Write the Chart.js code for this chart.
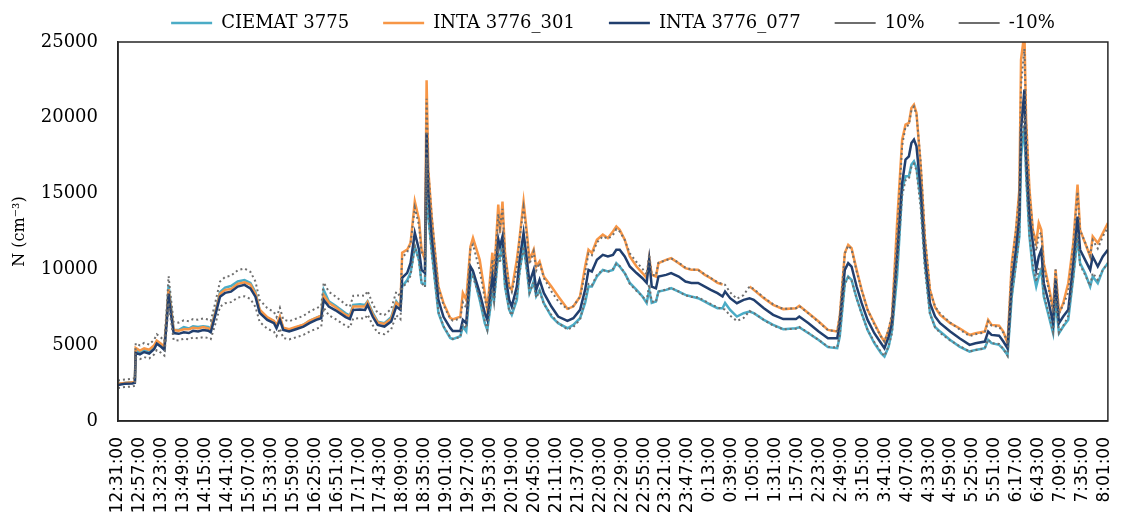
<!DOCTYPE html>
<html>
<head>
<meta charset="utf-8">
<title>N (cm-3)</title>
<script src="https://cdn.jsdelivr.net/npm/chart.js@4.4.1/dist/chart.umd.min.js"></script>
<style>
  html, body { margin: 0; padding: 0; background: #fff; }
  #wrap { width: 1133px; height: 515px; position: relative; }
</style>
</head>
<body>
<div id="wrap"><canvas id="chart"></canvas></div>
<script>
// Sample times, in minutes after 12:31
const minutes = [
  0, 8, 17, 20, 21, 26, 31, 37, 43, 46, 51, 55, 58, 60, 63, 66, 72, 78, 84, 89,
  95, 101, 107, 110, 115, 121, 127, 134, 142, 150, 157, 163, 168, 177, 185, 188, 192, 196, 203, 211,
  220, 227, 235, 241, 244, 250, 258, 270, 275, 279, 287, 293, 296, 302, 308, 316, 324, 330, 335, 337,
  343, 347, 352, 357, 360, 364, 366, 368, 372, 376, 380, 386, 394, 397, 406, 409, 413, 418, 421, 429,
  435, 438, 444, 446, 451, 453, 456, 459, 464, 467, 473, 476, 481, 485, 488, 493, 496, 500, 505, 514,
  522, 533, 540, 548, 554, 558, 562, 568, 575, 581, 587, 591, 595, 601, 607, 615, 622, 627, 630, 633,
  638, 641, 650, 656, 665, 673, 680, 688, 696, 703, 711, 717, 720, 726, 734, 742, 749, 754, 766, 777,
  789, 804, 808, 819, 831, 842, 853, 856, 862, 866, 870, 876, 882, 889, 897, 905, 909, 914, 918, 924,
  930, 934, 938, 941, 944, 947, 952, 957, 963, 969, 975, 987, 998, 1010, 1017, 1028, 1032, 1036, 1045, 1050,
  1055, 1060, 1065, 1069, 1071, 1075, 1077, 1081, 1085, 1089, 1092, 1095, 1098, 1104, 1109, 1112, 1116, 1121, 1127, 1133,
  1138, 1141, 1147, 1153, 1156, 1162, 1168, 1174
];

const ciemat3775 = [
  2450, 2500, 2550, 2600, 4700, 4550, 4700, 4600, 4900, 5200, 5000, 4800, 7100, 8950, 7500, 6000, 6000, 6200, 6100, 6250,
  6200, 6250, 6200, 6100, 7100, 8500, 8800, 8900, 9200, 9300, 9100, 8500, 7300, 6800, 6550, 6250, 6800, 6100, 6000, 6150,
  6350, 6600, 6800, 6950, 8640, 7900, 7600, 7100, 6950, 7650, 7700, 7650, 7900, 7150, 6550, 6450, 6850, 7900, 7500, 8870,
  9300, 9770, 11510, 10630, 9110, 9000, 16500, 13500, 11300, 9200, 7130, 6230, 5480, 5400, 5590, 6230, 5920, 9300, 9770, 7990,
  6450, 6010, 8450, 7990, 11000, 10800, 11520, 8870, 7330, 7000, 7990, 9800, 11520, 9970, 8450, 9220, 8230, 8650, 7770, 6890,
  6450, 6120, 6340, 6780, 7790, 8870, 8870, 9530, 9970, 9860, 9970, 10410, 10190, 9750, 9110, 8650, 8210, 7790, 8650, 7790,
  7880, 8540, 8650, 8760, 8540, 8320, 8210, 8100, 7880, 7660, 7440, 7440, 7790, 7330, 6890, 7110, 7220, 7110, 6670, 6340,
  6060, 6120, 6180, 5790, 5350, 4870, 4800, 5570, 9090, 9530, 9310, 8100, 7110, 6010, 5130, 4470, 4250, 4910, 6010, 9530,
  15260, 16140, 16140, 16910, 17130, 16690, 14600, 10410, 7110, 6200, 5900, 5350, 4910, 4580, 4690, 4800, 5350, 5130, 5020, 4740,
  4360, 8210, 10410, 12170, 17460, 19500, 16360, 12170, 9970, 8870, 9530, 9970, 8210, 6890, 5790, 7990, 5790, 6230, 6670, 9530,
  12170, 10410, 9750, 8870, 9530, 9090, 9970, 10410
];

const inta301 = [
  2450, 2500, 2560, 2600, 4820, 4650, 4800, 4700, 5000, 5300, 5100, 4900, 7000, 8700, 7300, 6000, 5950, 6050, 6050, 6150,
  6100, 6200, 6100, 6050, 7050, 8400, 8650, 8700, 9050, 9150, 9000, 8400, 7350, 6850, 6600, 6300, 6900, 6150, 6050, 6200,
  6350, 6600, 6800, 6950, 8300, 7800, 7500, 7000, 6900, 7550, 7550, 7550, 7850, 7050, 6500, 6400, 6750, 7800, 7550, 11100,
  11300, 11750, 14480, 13280, 11300, 10630, 22480, 16580, 13490, 11100, 8870, 7790, 6800, 6700, 6890, 8450, 7990, 11500, 12080, 10630,
  8450, 7330, 11100, 9530, 14270, 12400, 14480, 11100, 8870, 8650, 10630, 11950, 14480, 12400, 10630, 11300, 10190, 10520, 9530, 8870,
  8230, 7400, 7550, 8210, 10190, 11300, 11080, 11960, 12290, 12070, 12500, 12830, 12610, 11960, 10850, 10190, 9760, 9420, 10740, 9640,
  9530, 10410, 10630, 10740, 10410, 10080, 9970, 9970, 9640, 9420, 9110, 9000, null, null, null, null, 8880, 8650, 8100, 7660,
  7380, 7440, 7600, 7110, 6560, 6010, 5900, 6890, 11080, 11620, 11400, 9970, 8650, 7330, 6450, 5570, 5240, 6010, 6890, 13060,
  18560, 19550, 19660, 20650, 20870, 20320, 16800, 11960, 8650, 7500, 7000, 6450, 6120, 5680, 5790, 5900, 6670, 6340, 6290, 5900,
  5130, 10410, 12610, 15260, 23840, 25600, 19880, 15260, 12610, 11740, 13060, 12610, 10410, 8870, 7330, 9970, 7110, 7770, 9090, 11740,
  15590, 12610, 11740, 10850, 12170, 11740, 12390, 13060
];

const inta077 = [
  2380, 2450, 2480, 2520, 4490, 4400, 4550, 4450, 4750, 5100, 4900, 4690, 6670, 8400, 7000, 5800, 5750, 5850, 5800, 5950,
  5900, 6000, 5950, 5850, 6890, 8200, 8450, 8530, 8870, 8980, 8750, 8200, 7130, 6670, 6450, 6120, 6670, 6010, 5900, 6050,
  6230, 6450, 6670, 6780, 7990, 7550, 7300, 6850, 6720, 7330, 7350, 7330, 7660, 6890, 6340, 6230, 6560, 7550, 7330, 9440,
  9770, 10430, 12410, 11300, 9970, 9770, 19000, 15060, 12150, 10170, 7990, 6870, 6140, 5940, 5940, 6670, 6450, 10190, 9900, 8450,
  7130, 6670, 9530, 8650, 12000, 11500, 12170, 9770, 7990, 7550, 8870, 10500, 12410, 10630, 9110, 9970, 8650, 9310, 8450, 7550,
  6890, 6600, 6780, 7330, 8650, 9970, 9860, 10630, 10960, 10850, 10960, 11300, 11300, 10850, 10190, 9760, 9420, 9110, 10630, 8870,
  8750, 9530, 9640, 9760, 9530, 9200, 9110, 9110, 8870, 8650, 8430, 8210, 8540, 8100, 7770, 7990, 8100, 7990, 7440, 7000,
  6720, 6720, 6890, 6450, 5900, 5460, 5460, 6450, 9970, 10410, 10190, 8870, 7770, 6670, 5790, 5130, 4800, 5570, 6450, 10850,
  15700, 17240, 17460, 18340, 18560, 18120, 15260, 10850, 7770, 6900, 6450, 5900, 5460, 5020, 5130, 5240, 5900, 5680, 5630, 5240,
  4800, 9090, 11300, 13490, 19220, 21860, 17460, 13490, 11740, 9970, 10850, 11300, 9090, 7770, 6450, 9310, 6450, 6890, 7330, 10410,
  13490, 11300, 10630, 9970, 10850, 10190, 10850, 11300
];

// Axis labels, one every 26 minutes
const timeLabels = [
  '12:31:00', '12:57:00', '13:23:00', '13:49:00', '14:15:00', '14:41:00', '15:07:00', '15:33:00',
  '15:59:00', '16:25:00', '16:51:00', '17:17:00', '17:43:00', '18:09:00', '18:35:00', '19:01:00',
  '19:27:00', '19:53:00', '20:19:00', '20:45:00', '21:11:00', '21:37:00', '22:03:00', '22:29:00',
  '22:55:00', '23:21:00', '23:47:00', '0:13:00', '0:39:00', '1:05:00', '1:31:00', '1:57:00',
  '2:23:00', '2:49:00', '3:15:00', '3:41:00', '4:07:00', '4:33:00', '4:59:00', '5:25:00',
  '5:51:00', '6:17:00', '6:43:00', '7:09:00', '7:35:00', '8:01:00'
];
const TICK_STEP = 26;
const yTicks = [0, 5000, 10000, 15000, 20000, 25000];

const toPoints = vals => vals.map((v, i) => ({ x: minutes[i], y: v }));

// ±10 % band around the mean of the available instruments
const meanN = minutes.map((_, i) => {
  const vals = [ciemat3775[i], inta301[i], inta077[i]].filter(v => v !== null);
  return vals.reduce((s, v) => s + v, 0) / vals.length;
});
const plus10 = meanN.map(v => Math.round(v * 1.1));
const minus10 = meanN.map(v => Math.round(v * 0.9));

const SERIF = "'DejaVu Serif', 'Liberation Serif', serif";
const SANS = "'DejaVu Sans', 'Liberation Sans', sans-serif";

// thin frame around the plotting area
const plotFrame = {
  id: 'plotFrame',
  afterDatasetsDraw(chart) {
    const { ctx, chartArea: a } = chart;
    ctx.save();
    ctx.strokeStyle = '#262626';
    ctx.lineWidth = 1.5;
    ctx.strokeRect(a.left, a.top, a.right - a.left, a.bottom - a.top);
    ctx.restore();
  }
};

const line = (label, data, color, order, extra) => Object.assign({
  label,
  data: toPoints(data),
  borderColor: color,
  backgroundColor: color,
  borderWidth: 2.5,
  pointRadius: 0,
  tension: 0,
  spanGaps: false,
  order
}, extra || {});

const dotted = { borderWidth: 2, borderDash: [2, 3] };

new Chart(document.getElementById('chart'), {
  type: 'line',
  data: {
    datasets: [
      line('CIEMAT 3775', ciemat3775, '#4BACC6', 5),
      line('INTA 3776_301', inta301, '#F79646', 4),
      line('INTA 3776_077', inta077, '#213F6E', 3),
      line('10%', plus10, '#6E6E6E', 2, dotted),
      line('-10%', minus10, '#6E6E6E', 1, dotted)
    ]
  },
  options: {
    responsive: true,
    maintainAspectRatio: false,
    animation: false,
    layout: { padding: { top: -20, right: 5, bottom: 0, left: 0 } },
    plugins: {
      legend: {
        position: 'top',
        fullSize: false,
        labels: {
          usePointStyle: true,
          pointStyle: 'line',
          pointStyleWidth: 41,
          padding: 34,
          color: '#000',
          font: { family: SERIF, size: 18 },
          sort: (a, b) => a.datasetIndex - b.datasetIndex
        }
      },
      tooltip: { enabled: false }
    },
    scales: {
      x: {
        type: 'linear',
        min: 0,
        max: 1174,
        grid: { display: false },
        border: { display: true, color: '#262626', width: 1.5 },
        afterBuildTicks: s => { s.ticks = timeLabels.map((_, i) => ({ value: i * TICK_STEP })); },
        afterFit: s => { s.height = 94; },
        ticks: {
          autoSkip: false,
          minRotation: 90,
          maxRotation: 90,
          padding: 8,
          color: '#000',
          font: { family: SANS, size: 17 },
          callback: v => timeLabels[Math.round(v / TICK_STEP)]
        }
      },
      y: {
        min: 0,
        max: 25000,
        grid: { display: false },
        border: { display: true, color: '#262626', width: 1.5 },
        afterBuildTicks: s => { s.ticks = yTicks.map(v => ({ value: v })); },
        afterFit: s => { s.width = 118; },
        ticks: {
          padding: 12,
          color: '#000',
          font: { family: SERIF, size: 18 },
          callback: v => String(v)
        },
        title: {
          display: true,
          text: 'N (cm\u207B\u00B3)',
          color: '#000',
          padding: { top: 10, bottom: 0 },
          font: { family: SERIF, size: 16 }
        }
      }
    }
  },
  plugins: [plotFrame]
});
</script>
</body>
</html>
